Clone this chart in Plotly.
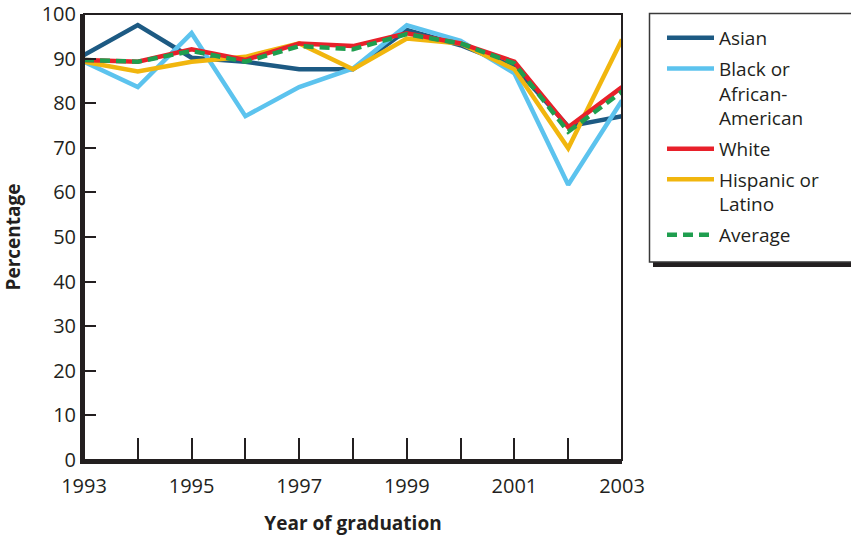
import plotly.graph_objects as go

years = [1993, 1994, 1995, 1996, 1997, 1998, 1999, 2000, 2001, 2002, 2003]
asian = [90.8, 97.5, 90.2, 89.3, 87.6, 87.6, 96.4, 93.0, 88.2, 74.8, 77.1]
black = [89.3, 83.6, 95.7, 77.1, 83.6, 87.8, 97.5, 94.0, 86.7, 61.7, 80.6]
white = [89.7, 89.3, 92.1, 89.7, 93.4, 92.8, 95.7, 93.4, 89.3, 74.6, 83.6]
hispanic = [89.3, 87.1, 89.3, 90.4, 93.4, 87.6, 94.5, 93.4, 87.6, 69.9, 94.3]
average = [89.7, 89.3, 91.7, 89.3, 92.8, 92.1, 95.5, 93.4, 88.9, 73.6, 82.6]

y_ticks = [0, 10, 20, 30, 40, 50, 60, 70, 80, 90, 100]
x_labels = ["1993", "", "1995", "", "1997", "", "1999", "", "2001", "", "2003"]

FONT = "Open Sans"
INK = "#231f20"

# plot area at x 84..622, y 14..460 (page body margin removed in post_script)
L, T = 84, 14
PW, PH = 538, 446
W, H = 851, 536
R = W - L - PW
B = H - T - PH


def px_x(px):
    return (px - L) / PW


def px_y(py):
    return (T + PH - py) / PH


fig = go.Figure()
series = [
    ("Asian", asian, "#1d5a83", False, 1),
    ("Black or<br>African-<br>American", black, "#5cc3ee", False, 2),
    ("Hispanic or<br>Latino", hispanic, "#f1b60e", False, 4),
    ("White", white, "#e8202a", False, 3),
    ("Average", average, "#1f9e4f", True, 5),
]
for name, vals, color, dashed, rank in series:
    fig.add_trace(go.Scatter(
        x=years, y=vals, name=name, mode="lines", legendrank=rank, legendgroup=name,
        line=dict(color=color, width=4.5, dash="10px,6px" if dashed else "solid"),
    ))

fig.update_layout(
    width=W, height=H,
    margin=dict(l=L, r=R, t=T, b=B, autoexpand=False),
    paper_bgcolor="white", plot_bgcolor="white",
    font=dict(family=FONT, size=19, color=INK),
    showlegend=True,
    legend=dict(
        x=px_x(662), y=px_y(19), xanchor="left", yanchor="top",
        borderwidth=0, bgcolor="rgba(0,0,0,0)",
        font=dict(family=FONT, size=19, color=INK),
        valign="top", itemwidth=47, tracegroupgap=3,
    ),
    xaxis=dict(
        range=[1993, 2003], tickvals=years, ticktext=x_labels,
        ticks="inside", ticklen=22, tickwidth=1.5, tickcolor=INK,
        showline=True, linewidth=4, linecolor=INK, showgrid=False, zeroline=False,
        tickfont=dict(family=FONT, size=20, color=INK), ticklabelstandoff=5,
        ticklabeloverflow="allow",
        title=dict(text="<b>Year of graduation</b>", font=dict(family=FONT, size=19, color=INK), standoff=27),
    ),
    yaxis=dict(
        range=[0, 100], tickvals=y_ticks,
        ticks="inside", ticklen=12, tickwidth=2, tickcolor=INK,
        showline=True, linewidth=4, linecolor=INK, showgrid=False, zeroline=False,
        tickfont=dict(family=FONT, size=20, color=INK), ticklabelstandoff=0,
        ticklabeloverflow="allow",
        title=dict(text="<b>Percentage</b>", font=dict(family=FONT, size=19, color=INK), standoff=22),
    ),
    shapes=[
        dict(type="rect", xref="paper", yref="paper", x0=0, x1=1, y0=0, y1=1,
             line=dict(color=INK, width=2), layer="above"),
        dict(type="rect", xref="paper", yref="paper",
             x0=px_x(653), x1=px_x(900), y0=px_y(267), y1=px_y(17),
             line=dict(width=0), fillcolor=INK, layer="below"),
        dict(type="rect", xref="paper", yref="paper",
             x0=px_x(649.5), x1=px_x(900), y0=px_y(262), y1=px_y(13.5),
             line=dict(width=1.5, color="#3a3a3a"), fillcolor="white", layer="below"),
    ],
)

fig.write_html(
    "out.html",
    config={"displayModeBar": False},
    post_script="document.body.style.margin='0';document.body.style.overflow='hidden';",
)
